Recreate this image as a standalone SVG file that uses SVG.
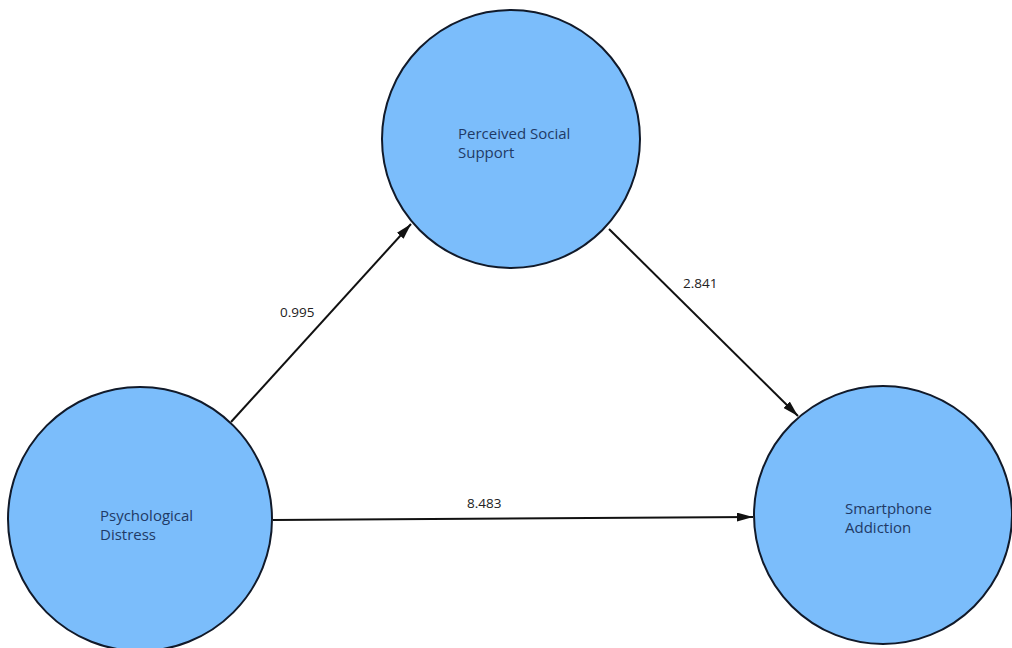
<svg xmlns="http://www.w3.org/2000/svg" width="1012" height="648" viewBox="0 0 1012 648">
<style>
.node{fill:#7bbdfb;stroke:#111a2a;stroke-width:2}
.lbl{font-family:"Open Sans","Liberation Sans",sans-serif;font-size:15px;fill:#1f3a66}
.edge{stroke:#111;stroke-width:2;fill:none}
.val{font-family:"Open Sans","Liberation Sans",sans-serif;font-size:13.5px;fill:#222}
</style>
<defs>
<marker id="ah" markerWidth="16" markerHeight="9" refX="16" refY="4.5" orient="auto" markerUnits="userSpaceOnUse">
<path d="M0,0 L16,4.5 L0,9 Z" fill="#111"/>
</marker>
</defs>
<rect width="1012" height="648" fill="#fff"/>
<g id="connectors">
<line class="edge" x1="231" y1="422" x2="411" y2="224" marker-end="url(#ah)"/>
<text class="val" x="280" y="317">0.995</text>
<line class="edge" x1="609" y1="229" x2="798" y2="416" marker-end="url(#ah)"/>
<text class="val" x="683" y="288">2.841</text>
<line class="edge" x1="273" y1="520" x2="753" y2="517" marker-end="url(#ah)"/>
<text class="val" x="467" y="508">8.483</text>
</g>
<g id="pss">
<circle class="node" cx="511" cy="139" r="129"/>
<text class="lbl" x="458" y="139">Perceived Social</text>
<text class="lbl" x="458" y="158">Support</text>
</g>
<g id="pd">
<circle class="node" cx="140" cy="519" r="132"/>
<text class="lbl" x="100" y="521">Psychological</text>
<text class="lbl" x="100" y="540">Distress</text>
</g>
<g id="sa">
<circle class="node" cx="883" cy="515" r="129"/>
<text class="lbl" x="845" y="514">Smartphone</text>
<text class="lbl" x="845" y="533">Addiction</text>
</g>
</svg>
